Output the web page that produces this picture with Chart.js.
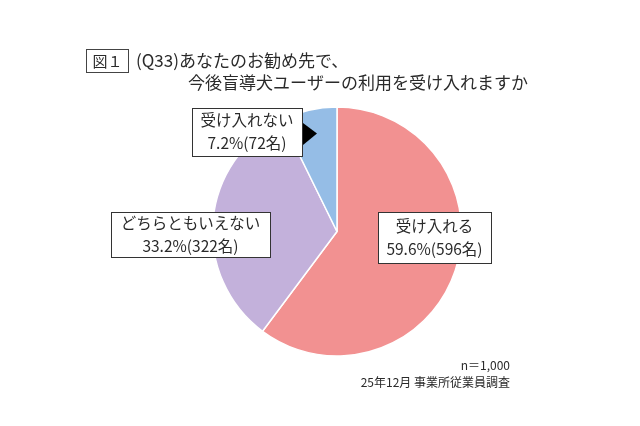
<!DOCTYPE html>
<html>
<head>
<meta charset="utf-8">
<script src="https://cdn.jsdelivr.net/npm/chart.js@4.4.1/dist/chart.umd.min.js"></script>
<style>
  html, body { margin: 0; padding: 0; background: #fff; }
  #wrap { width: 640px; height: 426px; }
</style>
</head>
<body>
<div id="wrap"><canvas id="myChart" width="640" height="426"></canvas></div>
<script>
const categories = ['受け入れる', 'どちらともいえない', '受け入れない'];
const counts = [596, 322, 72];
const percents = [59.6, 33.2, 7.2];
const colors = ['#F29191', '#C3B1DB', '#95BDE6'];

const FONT = '"Noto Sans CJK JP", "Noto Sans", sans-serif';

// where each label box sits (center x, center y, width, height)
const boxes = [
  { x: 434.5, y: 237.5, w: 113, h: 51 },
  { x: 190.5, y: 234.5, w: 159, h: 45 },
  { x: 247, y: 132, w: 110, h: 48 }
];

const decor = {
  id: 'decor',
  afterDraw(chart) {
    const c = chart.ctx;
    c.save();
    c.fillStyle = '#2a2a2a';
    c.textBaseline = 'middle';

    // figure tag
    c.strokeStyle = '#444';
    c.lineWidth = 1;
    c.strokeRect(86.5, 49.5, 42, 23);
    c.font = '15px ' + FONT;
    c.textAlign = 'center';
    c.fillText('図１', 107.5, 61);

    // title
    c.font = '17px ' + FONT;
    c.textAlign = 'left';
    c.fillText('(Q33)あなたのお勧め先で、', 136, 61);
    c.fillText('今後盲導犬ユーザーの利用を受け入れますか', 188, 83);

    // labels
    c.font = '15.5px ' + FONT;
    c.textAlign = 'center';
    categories.forEach((name, i) => {
      const b = boxes[i];
      c.fillStyle = '#fff';
      c.fillRect(b.x - b.w / 2, b.y - b.h / 2, b.w, b.h);
      c.strokeStyle = '#333';
      c.strokeRect(Math.round(b.x - b.w / 2) + 0.5, Math.round(b.y - b.h / 2) + 0.5, b.w, b.h);
      c.fillStyle = '#2a2a2a';
      c.fillText(name, b.x, b.y - 11.5);
      c.fillText(percents[i].toFixed(1) + '%(' + counts[i] + '名)', b.x, b.y + 11.5);
    });

    // pointer for the small slice
    c.fillStyle = '#000';
    c.beginPath();
    c.moveTo(303, 123);
    c.lineTo(317, 133.5);
    c.lineTo(303, 145);
    c.closePath();
    c.fill();

    // footer
    c.fillStyle = '#2a2a2a';
    c.font = '12px ' + FONT;
    c.textAlign = 'right';
    c.fillText('n＝1,000', 510, 365);
    c.fillText('25年12月 事業所従業員調査', 510, 382);
    c.restore();
  }
};

new Chart(document.getElementById('myChart'), {
  type: 'pie',
  data: {
    labels: categories,
    datasets: [{
      data: counts,
      backgroundColor: colors,
      borderColor: '#fff',
      borderWidth: 1.5,
      radius: 124.5
    }]
  },
  options: {
    responsive: false,
    animation: false,
    devicePixelRatio: 1,
    layout: { padding: { left: 212, right: 178, top: 107, bottom: 70 } },
    plugins: {
      legend: { display: false },
      tooltip: { enabled: false }
    }
  },
  plugins: [decor]
});
</script>
</body>
</html>
